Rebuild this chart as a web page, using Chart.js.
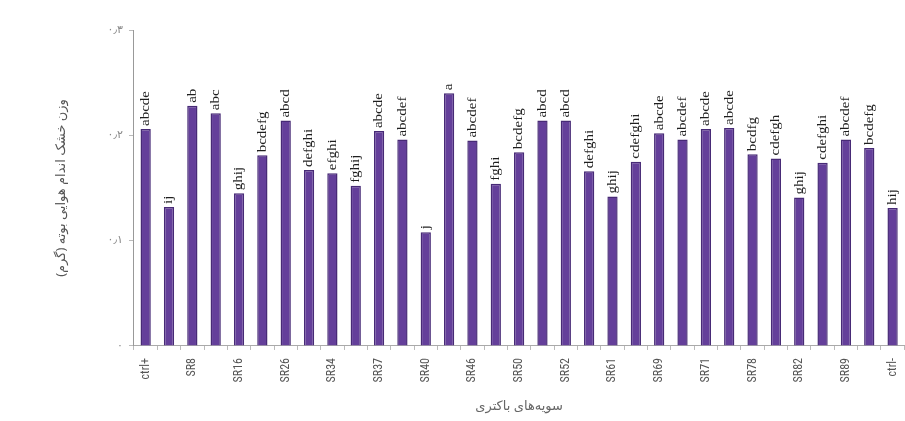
<!DOCTYPE html>
<html>
<head>
<meta charset="utf-8">
<script src="https://cdn.jsdelivr.net/npm/chart.js@4.4.1/dist/chart.umd.min.js"></script>
<style>
  body { margin: 0; background: #fff; overflow: hidden; }
  canvas { display: block; }
</style>
</head>
<body>
<canvas id="strainChart" width="915" height="421"></canvas>
<script>
// strains (only every other name is printed under the axis)
const strains = ['ctrl+', '', 'SR8', '', 'SR16', '', 'SR26', '', 'SR34', '', 'SR37', '',
  'SR40', '', 'SR46', '', 'SR50', '', 'SR52', '', 'SR61', '', 'SR69', '', 'SR71', '',
  'SR78', '', 'SR82', '', 'SR89', '', 'ctrl-'];

// shoot dry weight (g)
const dryWeight = [0.206, 0.132, 0.228, 0.221, 0.145, 0.181, 0.214, 0.167, 0.164, 0.152, 0.204,
  0.196, 0.108, 0.240, 0.195, 0.154, 0.184, 0.214, 0.214, 0.166, 0.142, 0.175, 0.202,
  0.196, 0.206, 0.207, 0.182, 0.178, 0.141, 0.174, 0.196, 0.188, 0.131];

// Duncan groups written above each bar
const groups = ['abcde', 'ij', 'ab', 'abc', 'ghij', 'bcdefg', 'abcd', 'defghi', 'efghi', 'fghij', 'abcde',
  'abcdef', 'j', 'a', 'abcdef', 'fghi', 'bcdefg', 'abcd', 'abcd', 'defghi', 'ghij', 'cdefghi', 'abcde',
  'abcdef', 'abcde', 'abcde', 'bcdfg', 'cdefgh', 'ghij', 'cdefghi', 'abcdef', 'bcdefg', 'hij'];

const yTicks = [0, 0.1, 0.2, 0.3];

function toPersian(v) {
  const digits = '۰۱۲۳۴۵۶۷۸۹';
  return String(v).replace(/[0-9]/g, d => digits[d]).replace('.', '٫');
}

// vertical letter labels on top of the bars
const groupLabels = {
  id: 'groupLabels',
  afterDatasetsDraw(chart) {
    const ctx = chart.ctx;
    const meta = chart.getDatasetMeta(0);
    ctx.save();
    ctx.fillStyle = '#1e1e1e';
    ctx.font = '15px "Liberation Serif", serif';
    ctx.textAlign = 'left';
    ctx.textBaseline = 'middle';
    meta.data.forEach((bar, i) => {
      ctx.save();
      ctx.translate(bar.x, bar.y - 3);
      ctx.rotate(-Math.PI / 2);
      ctx.scale(1, 0.85);
      ctx.fillText(groups[i], 0, 0);
      ctx.restore();
    });
    ctx.restore();
  }
};

const ctx1 = document.getElementById('strainChart');

strainChart = new Chart(ctx1, {
  type: 'bar',
  data: {
    labels: strains,
    datasets: [{
      label: 'dry weight',
      data: dryWeight,
      backgroundColor: '#643f9a',
      borderColor: '#472a76',
      borderWidth: 1.5,
      borderSkipped: 'bottom',
      categoryPercentage: 1,
      barPercentage: 0.44
    }]
  },
  options: {
    responsive: false,
    animation: false,
    layout: {
      padding: { top: 30, left: 49, right: 0, bottom: 7 }
    },
    plugins: {
      legend: { display: false },
      tooltip: { enabled: false }
    },
    scales: {
      x: {
        grid: {
          offset: true,
          drawOnChartArea: false,
          drawTicks: true,
          tickLength: 4,
          color: '#bbb'
        },
        border: { color: '#aaa' },
        ticks: {
          autoSkip: false,
          minRotation: 90,
          maxRotation: 90,
          color: '#555',
          padding: 8,
          font: { size: 12, family: '"Roboto Condensed", "Liberation Sans Narrow", "Liberation Sans", sans-serif' }
        },
        title: {
          display: true,
          text: 'سویه‌های باکتری',
          color: '#666',
          font: { size: 13, family: '"Noto Sans", "DejaVu Sans", sans-serif' },
          padding: { top: 8, bottom: 0 }
        }
      },
      y: {
        min: 0,
        max: 0.3,
        afterBuildTicks(scale) {
          scale.ticks = yTicks.map(v => ({ value: v }));
        },
        grid: {
          drawOnChartArea: false,
          drawTicks: true,
          tickLength: 5,
          color: '#bbb'
        },
        border: { color: '#999' },
        ticks: {
          color: '#888',
          padding: 6,
          font: { size: 11, family: '"DejaVu Sans", sans-serif' },
          callback: v => toPersian(v)
        },
        title: {
          display: true,
          text: 'وزن خشک اندام هوایی بوته (گرم)',
          color: '#555',
          font: { size: 13, family: '"Noto Sans", "DejaVu Sans", sans-serif' },
          padding: { top: 4, bottom: 33 }
        }
      }
    }
  },
  plugins: [groupLabels]
});
</script>
</body>
</html>
